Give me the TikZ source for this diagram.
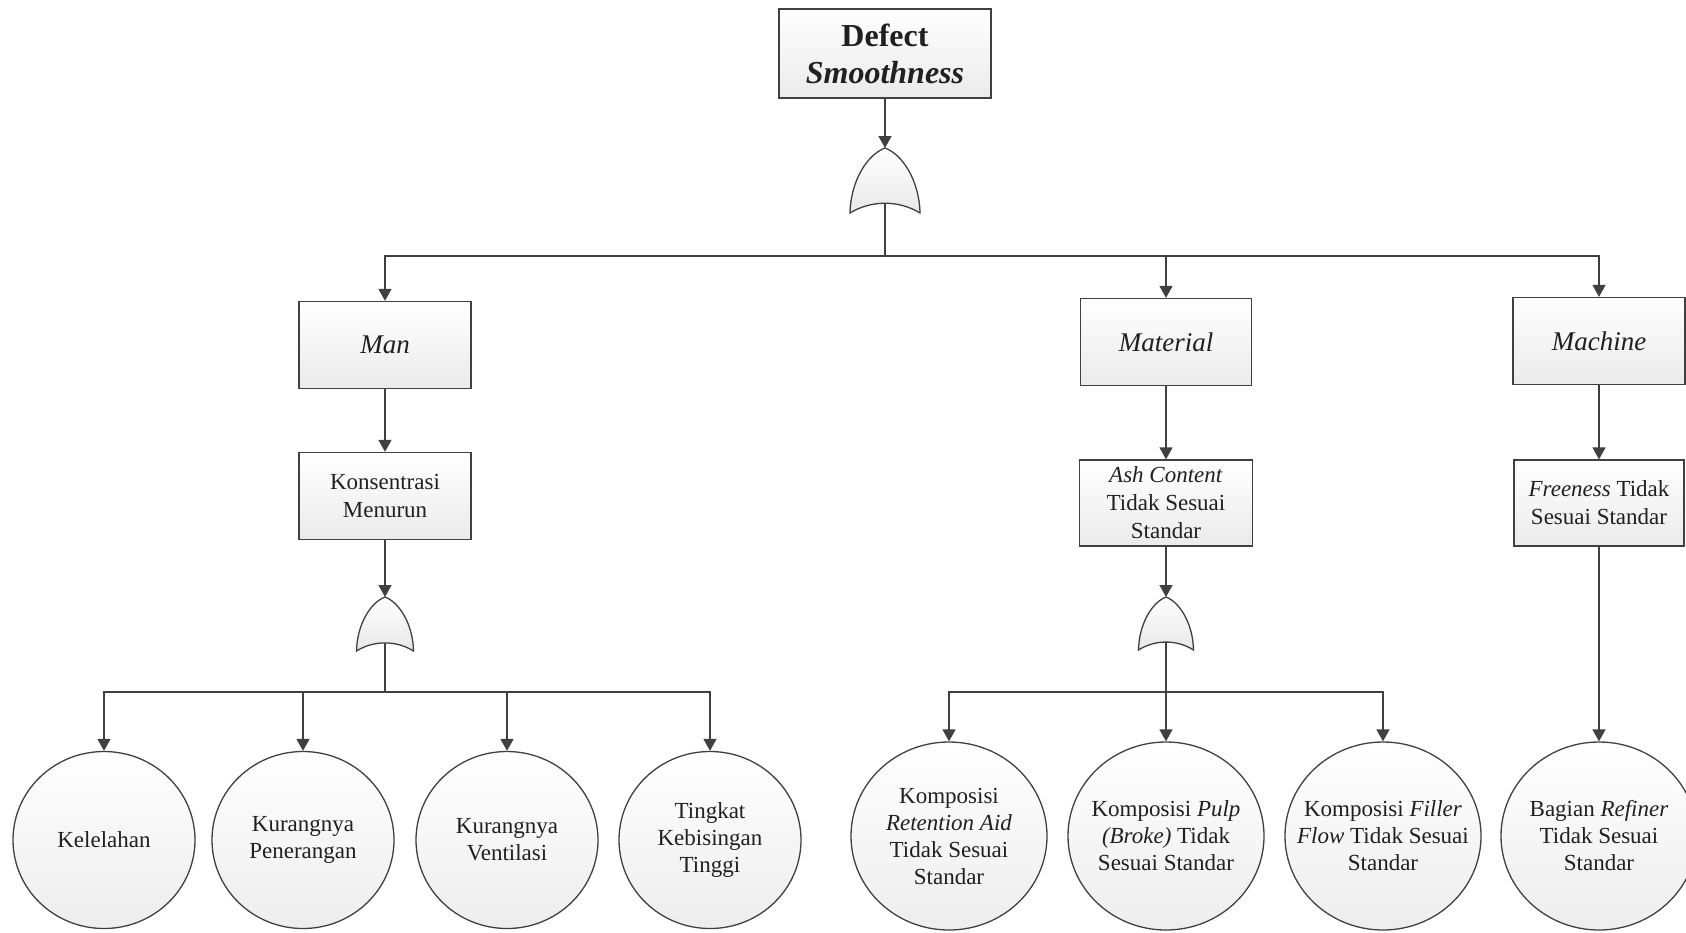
\documentclass[tikz,border=0pt]{standalone}
\usepackage{fontspec}
\setmainfont{Liberation Serif}
\usetikzlibrary{shapes.geometric,arrows.meta}
\definecolor{lc}{HTML}{404040}
\definecolor{tc}{HTML}{202020}
\tikzset{
 ln/.style={draw=lc, line width=1.4pt},
 arr/.style={ln, -{Triangle[width=13pt,length=12pt]}},
 box/.style={draw=lc, line width=1.3pt, top color=white, bottom color=gray!16,
   minimum width=172pt, minimum height=87pt, inner sep=2pt, align=center,
   text=tc, font=\fontsize{23}{28}\selectfont},
 hbox/.style={box, font=\fontsize{27}{32}\selectfont},
 ltxt/.style={align=center, text=tc, inner sep=0pt, font=\fontsize{23}{27}\selectfont},
 ev/.style={ellipse, draw=lc, line width=1.3pt, top color=white, bottom color=gray!14,
   inner sep=0pt},
 evs/.style={ev, minimum width=182pt, minimum height=177pt},
 evl/.style={ev, minimum width=196pt, minimum height=188pt},
 gatefill/.style={draw=lc, line width=1.3pt, top color=white, bottom color=gray!18},
}
\newcommand\orgate[5]{%
 \path[gatefill] ({#2-#4/2},{#3+#5})
   .. controls ({#2-0.49*#4},{#3+0.5*#5}) and ({#2-0.25*#4},{#3+0.1*#5}) .. (#2,#3)
   .. controls ({#2+0.25*#4},{#3+0.1*#5}) and ({#2+0.49*#4},{#3+0.5*#5}) .. ({#2+#4/2},{#3+#5})
   .. controls ({#2+0.2*#4},{#3+0.8*#5}) and ({#2-0.2*#4},{#3+0.8*#5}) .. ({#2-#4/2},{#3+#5}) -- cycle;
 \coordinate (#1-top) at (#2,#3);
 \coordinate (#1-bot) at (#2,{#3+0.85*#5});
}
\begin{document}
\begin{tikzpicture}[x=1pt,y=-1pt]
\useasboundingbox[fill=white] (0,0) rectangle (1686,932);

% top event
\node[box, minimum width=212pt, minimum height=89pt, font=\fontsize{32}{37}\selectfont] (top) at (885,53.5)
  {\textbf{Defect}\\\textbf{\textit{Smoothness}}};
\orgate{g0}{885}{148}{70}{65}

% level 1
\node[hbox] (man) at (385,345) {\textit{Man}};
\node[hbox, minimum width=171pt] (mat) at (1166,342) {\textit{Material}};
\node[hbox] (mac) at (1599,341) {\textit{Machine}};

% level 2
\node[box] (kons) at (385,496) {Konsentrasi\\Menurun};
\node[box, minimum width=173pt, minimum height=86pt] (ash) at (1166,503) {\textit{Ash Content}\\Tidak Sesuai\\Standar};
\node[box, minimum width=170pt, minimum height=86pt] (free) at (1599,503) {\textit{Freeness} Tidak\\Sesuai Standar};

\orgate{gm}{385}{597}{57}{54}
\orgate{ga}{1166}{597}{55}{53}

% basic events
\node[evs, label={[ltxt]center:{Kelelahan}}] (c1) at (104,840) {};
\node[evs, label={[ltxt]center:{Kurangnya\\Penerangan}}] (c2) at (303,840) {};
\node[evs, label={[ltxt]center:{Kurangnya\\Ventilasi}}] (c3) at (507,840) {};
\node[evs, label={[ltxt]center:{Tingkat\\Kebisingan\\Tinggi}}] (c4) at (710,840) {};

\node[evl, label={[ltxt]center:{Komposisi\\\textit{Retention Aid}\\Tidak Sesuai\\Standar}}] (c5) at (949,836) {};
\node[evl, label={[ltxt]center:{Komposisi \textit{Pulp}\\\textit{(Broke)} Tidak\\Sesuai Standar}}] (c6) at (1166,836) {};
\node[evl, label={[ltxt]center:{Komposisi \textit{Filler}\\\textit{Flow} Tidak Sesuai\\Standar}}] (c7) at (1383,836) {};
\node[evl, label={[ltxt]center:{Bagian \textit{Refiner}\\Tidak Sesuai\\Standar}}] (c8) at (1599,836) {};

% connectors
\coordinate (b0) at (885,256);
\coordinate (b1) at (385,692);
\draw[arr] (top.south) -- (g0-top);
\draw[ln] (g0-bot) -- (b0);
\draw[arr] (b0) -| (man.north);
\draw[arr] (b0) -| (mat.north);
\draw[arr] (b0) -| (mac.north);

\draw[arr] (man.south) -- (kons.north);
\draw[arr] (kons.south) -- (gm-top);
\draw[ln] (gm-bot) -- (b1);
\draw[arr] (b1) -| (c1.north);
\draw[arr] (b1) -| (c2.north);
\draw[arr] (b1) -| (c3.north);
\draw[arr] (b1) -| (c4.north);

\draw[arr] (mat.south) -- (ash.north);
\draw[arr] (ash.south) -- (ga-top);
\draw[arr] (ga-bot) -- (c6.north);
\draw[arr] (c6.north |- b1) -| (c5.north);
\draw[arr] (c6.north |- b1) -| (c7.north);

\draw[arr] (mac.south) -- (free.north);
\draw[arr] (free.south) -- (c8.north);
\end{tikzpicture}
\end{document}
